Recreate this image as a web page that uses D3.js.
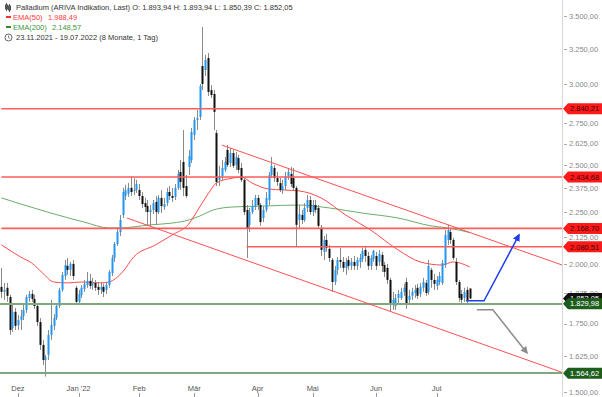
<!DOCTYPE html>
<html>
<head>
<meta charset="utf-8">
<script src="https://cdn.jsdelivr.net/npm/d3@7"></script>
<style>
  body { margin: 0; background: #fff; }
  svg { display: block; font-family: "Liberation Sans", Arial, sans-serif; }
</style>
</head>
<body>
<div id="chart"></div>
<script>
// trading days 23.11.2021 - 19.07.2022 (weekdays)
var firstDay = new Date(2021, 10, 23), lastDay = new Date(2022, 6, 19);

var openP = [
  1901,1880,1897,1858,1733,1797,1744,1764,1780,1805,
  1854,1871,1850,1821,1756,1668,1612,1631,1706,1741,
  1772,1821,1888,1948,1993,1975,2002,1897,1838,1867,
  1892,1909,1927,1909,1918,1901,1888,1901,1888,1909,
  1961,2029,2094,2151,2235,2333,2344,2376,2360,2365,
  2365,2333,2296,2281,2250,2261,2302,2250,2323,2276,
  2296,2354,2333,2328,2376,2463,2519,2386,2491,2530,
  2677,2769,2788,3127,3099,3184,2962,2936,2689,2419,
  2440,2474,2588,2513,2570,2502,2541,2485,2419,2261,
  2186,2250,2276,2323,2286,2220,2261,2312,2446,2485,
  2429,2402,2365,2386,2440,2452,2429,2376,2210,2235,
  2210,2271,2312,2250,2286,2271,2171,2057,2113,2071,
  2020,1922,1975,2020,2011,1984,2020,1993,2011,1993,
  2011,2024,2066,2038,1993,2024,2038,2011,2043,1997,
  1984,1931,1825,1821,1854,1854,1880,1922,1846,1863,
  1875,1897,1871,1897,1918,1880,1975,1931,1905,1922,
  1918,1997,2113,2151,2113,2011,1922,1871,1854,1888,
  1893.94
];
var highP = [
  1984,1918,1918,1867,1825,1813,1784,1805,1825,1867,
  1884,1888,1867,1829,1772,1687,1631,1725,1846,1788,
  1833,1897,1966,2020,2029,2011,2020,1905,1888,1909,
  1931,1966,1957,1940,1931,1922,1922,1914,1922,1975,
  2043,2104,2171,2235,2376,2392,2402,2440,2429,2419,
  2397,2354,2323,2312,2286,2312,2333,2338,2365,2323,
  2376,2386,2376,2397,2474,2530,2707,2446,2588,2720,
  2788,2832,3003,3414,3206,3220,2996,2962,2707,2497,
  2530,2547,2617,2600,2588,2576,2559,2513,2429,2286,
  2271,2312,2338,2338,2296,2281,2354,2463,2547,2502,
  2463,2429,2419,2463,2485,2491,2485,2386,2286,2261,
  2296,2338,2333,2312,2312,2286,2186,2132,2142,2090,
  2029,1993,2033,2076,2033,2029,2038,2029,2038,2033,
  2048,2076,2085,2057,2043,2066,2057,2066,2057,2011,
  2002,1940,1880,1871,1888,1897,1914,1940,1888,1897,
  1909,1914,1918,1940,1931,2020,1984,1957,1948,1966,
  2020,2161,2186,2171,2123,2029,1931,1888,1897,1901,
  1893.94
];
var lowP = [
  1854,1846,1838,1706,1717,1725,1725,1725,1764,1792,
  1838,1838,1809,1741,1649,1594,1553,1612,1687,1725,
  1764,1813,1880,1931,1953,1948,1931,1825,1829,1854,
  1880,1897,1892,1888,1884,1867,1871,1858,1871,1897,
  1948,2011,2085,2132,2220,2312,2328,2333,2338,2349,
  2312,2271,2250,2181,2176,2240,2186,2240,2245,2261,
  2281,2312,2302,2312,2365,2365,2333,2323,2446,2513,
  2647,2707,2769,2962,3057,2923,2910,2707,2386,2386,
  2419,2463,2491,2491,2485,2474,2457,2408,2235,2029,
  2151,2240,2261,2261,2181,2200,2250,2286,2429,2408,
  2386,2354,2344,2365,2419,2381,2365,2080,2171,2190,
  2200,2250,2235,2230,2245,2171,2038,2020,2057,2011,
  1880,1909,1953,1984,1966,1953,1975,1975,1975,1975,
  1984,2011,2011,1975,1975,2011,1975,1993,1966,1944,
  1914,1797,1805,1805,1833,1846,1863,1809,1829,1846,
  1854,1850,1858,1880,1863,1867,1897,1888,1888,1909,
  1909,1984,2090,2094,2020,1909,1838,1829,1838,1833,
  1850.39
];
var closeP = [
  1880,1888,1863,1725,1797,1741,1764,1780,1805,1858,
  1871,1850,1821,1756,1668,1612,1623,1706,1744,1772,
  1821,1888,1953,1997,1975,2002,1948,1838,1871,1897,
  1914,1927,1905,1918,1897,1888,1901,1880,1909,1966,
  2029,2094,2151,2210,2354,2365,2376,2354,2365,2397,
  2333,2291,2276,2250,2261,2296,2250,2323,2281,2291,
  2354,2333,2323,2376,2452,2408,2376,2333,2553,2695,
  2769,2782,2989,3003,3170,2949,2929,2820,2408,2440,
  2485,2519,2502,2570,2497,2547,2474,2419,2250,2171,
  2250,2281,2323,2286,2200,2261,2323,2446,2497,2429,
  2408,2365,2386,2440,2463,2397,2376,2186,2240,2210,
  2271,2312,2250,2286,2261,2181,2066,2113,2076,2029,
  1922,1975,2020,2011,1984,2011,1993,2011,1993,2020,
  2029,2062,2038,1993,2029,2062,1993,2048,1993,1966,
  1931,1825,1846,1854,1871,1880,1897,1825,1863,1880,
  1888,1863,1901,1922,1875,1993,1931,1914,1931,1948,
  2006,2137,2161,2113,2029,1922,1854,1846,1880,1846,
  1852.05
];

// EMA lines (candle index, value)
var ema50Idx = [0, 7, 11, 15, 19, 24, 29, 36, 39, 44, 48, 56, 62, 68, 72, 76, 78, 84, 87, 91, 97, 102, 108, 116, 125, 134, 144, 152, 160, 164, 170];
var ema50Val = [2090, 2033, 2006, 1961, 1922, 1918, 1922, 1918, 1922, 1966, 2033, 2090, 2137, 2190, 2276, 2365, 2402, 2429, 2435, 2402, 2370, 2365, 2360, 2323, 2235, 2161, 2066, 2011, 1997, 2011, 1988.49];
var ema200Idx = [0, 18, 30, 39, 43, 54, 62, 68, 72, 77, 84, 96, 108, 119, 131, 144, 156, 162, 170];
var ema200Val = [2323, 2245, 2200, 2171, 2171, 2186, 2195, 2210, 2230, 2261, 2276, 2281, 2286, 2271, 2245, 2220, 2181, 2171, 2148.57];

// horizontal levels
var redLevels = [2840.21, 2434.68, 2168.70, 2080.51];
var redLevelStart = [0, 0, 0, 89];
var greenLevels = [1829.98, 1564.62];
var lastPrice = 1852.05;

// trend channel (candle index, price)
var channelUpper = [[80, 2617], [203.5, 1997]];
var channelLower = [[45.6, 2220], [203.5, 1568]];

// scenario arrows
var arrowUp = [[168.6, 1842], [175.2, 1842], [187.9, 2137]];
var arrowDown = [[172.6, 1805], [178.4, 1805], [190.8, 1638]];

var yTicks = [1500, 1625, 1750, 1875, 2000, 2125, 2250, 2375, 2500, 2625, 2750, 3000, 3250, 3500];
var monthStarts = [new Date(2021, 11, 1), new Date(2022, 0, 1), new Date(2022, 1, 1), new Date(2022, 2, 1),
                   new Date(2022, 3, 1), new Date(2022, 4, 1), new Date(2022, 5, 1), new Date(2022, 6, 1)];
var monthLabels = ["Dez", "Jan '22", "Feb", "Mär", "Apr", "Mai", "Jun", "Jul"];

var width = 602, height = 397, plotRight = 562;

var de = d3.formatLocale({decimal: ",", thousands: ".", grouping: [3], currency: ["", ""]});
var fmt = de.format(",.2f");

var days = d3.timeDay.range(firstDay, d3.timeDay.offset(lastDay, 1))
  .filter(function(d) { return d.getDay() !== 0 && d.getDay() !== 6; });

// month tick sits on the last trading day on or before the 1st
function dayIndex(date) {
  var k = d3.bisector(function(d) { return d; }).left(days, date);
  if (+days[k] === +date || k === 0) return k;
  return k - 1;
}

var x = d3.scaleLinear().domain([-0.5, 203.5]).range([0, plotRight]);
var y = d3.scaleLog().domain([1500, 3500]).range([392, 16]);

var svg = d3.select('#chart').append('svg')
  .attr('width', width)
  .attr('height', height);

svg.append('defs').selectAll('marker')
  .data([['headBlue', '#1f3df0'], ['headGray', '#8c8c8c']])
  .join('marker')
  .attr('id', function(d) { return d[0]; })
  .attr('viewBox', '0 0 10 10')
  .attr('refX', 8).attr('refY', 5)
  .attr('markerWidth', 5).attr('markerHeight', 5)
  .attr('orient', 'auto')
  .append('path')
  .attr('d', 'M0,0 L10,5 L0,10 z')
  .attr('fill', function(d) { return d[1]; });

// right axis line
svg.append('line')
  .attr('x1', plotRight + 0.5).attr('x2', plotRight + 0.5)
  .attr('y1', 0).attr('y2', height)
  .attr('stroke', '#d8d8d8');

// EMA lines
var emaLine = d3.line()
  .curve(d3.curveMonotoneX)
  .x(function(d) { return x(d[0]); })
  .y(function(d) { return y(d[1]); });

svg.append('path')
  .attr('d', emaLine(d3.zip(ema200Idx, ema200Val)))
  .attr('fill', 'none').attr('stroke', '#6aae6a').attr('stroke-width', 1);

svg.append('path')
  .attr('d', emaLine(d3.zip(ema50Idx, ema50Val)))
  .attr('fill', 'none').attr('stroke', '#ff4a4a').attr('stroke-width', 1);

// candles
var candles = d3.range(closeP.length).map(function(i) {
  return {i: i, o: openP[i], h: highP[i], l: lowP[i], c: closeP[i]};
});

svg.append('g').selectAll('line')
  .data(candles)
  .join('line')
  .attr('x1', function(d) { return Math.round(x(d.i)) + 0.5; })
  .attr('x2', function(d) { return Math.round(x(d.i)) + 0.5; })
  .attr('y1', function(d) { return y(d.h); })
  .attr('y2', function(d) { return y(d.l); })
  .attr('stroke', '#8a8a8a');

svg.append('g').selectAll('rect')
  .data(candles)
  .join('rect')
  .attr('x', function(d) { return Math.round(x(d.i)) - 0.5; })
  .attr('width', 2)
  .attr('y', function(d) { return y(Math.max(d.o, d.c)); })
  .attr('height', function(d) { return Math.max(1, Math.abs(y(d.o) - y(d.c))); })
  .attr('fill', function(d) { return d.c >= d.o ? '#2196f3' : '#111'; });

// horizontal levels
svg.append('g').selectAll('line')
  .data(redLevels)
  .join('line')
  .attr('x1', function(d, i) { return x(redLevelStart[i]); })
  .attr('x2', plotRight)
  .attr('y1', function(d) { return y(d); })
  .attr('y2', function(d) { return y(d); })
  .attr('stroke', '#ff5c5c').attr('stroke-width', 1.6);

svg.append('g').selectAll('line')
  .data(greenLevels)
  .join('line')
  .attr('x1', 0).attr('x2', plotRight)
  .attr('y1', function(d) { return Math.round(y(d)); })
  .attr('y2', function(d) { return Math.round(y(d)); })
  .attr('stroke', '#7fa87f').attr('stroke-width', 2);

// channel
var straight = d3.line()
  .x(function(d) { return x(d[0]); })
  .y(function(d) { return y(d[1]); });

svg.append('g').selectAll('path')
  .data([channelUpper, channelLower])
  .join('path')
  .attr('d', straight)
  .attr('fill', 'none').attr('stroke', '#ff5050').attr('stroke-width', 1);

// arrows
svg.append('path')
  .attr('d', straight(arrowUp))
  .attr('fill', 'none').attr('stroke', '#1f3df0').attr('stroke-width', 1.5)
  .attr('marker-end', 'url(#headBlue)');
svg.append('path')
  .attr('d', straight(arrowDown))
  .attr('fill', 'none').attr('stroke', '#8c8c8c').attr('stroke-width', 1.5)
  .attr('marker-end', 'url(#headGray)');

// right axis ticks and labels (labels under a level box are not shown)
var boxY = redLevels.concat(greenLevels).map(function(v) { return y(v); });
var labelTicks = yTicks.filter(function(t) {
  return boxY.every(function(b) { return Math.abs(b - y(t)) > 9; });
});
var yAxisG = svg.append('g').attr('font-size', 7.5).attr('fill', '#8a8a8a');
yAxisG.selectAll('line')
  .data(yTicks)
  .join('line')
  .attr('x1', plotRight + 2).attr('x2', plotRight + 5)
  .attr('y1', function(d) { return Math.round(y(d)) + 0.5; })
  .attr('y2', function(d) { return Math.round(y(d)) + 0.5; })
  .attr('stroke', '#aaa');
yAxisG.selectAll('text')
  .data(labelTicks)
  .join('text')
  .attr('x', plotRight + 7)
  .attr('y', function(d) { return y(d); })
  .attr('dy', '0.35em')
  .text(function(d) { return fmt(d); });

// price boxes
function priceBox(value, fill, textFill) {
  var cy = y(value);
  var g = svg.append('g');
  g.append('path')
    .attr('d', 'M' + (plotRight + 1) + ',' + cy +
               'L' + (plotRight + 6) + ',' + (cy - 5.5) +
               'L' + width + ',' + (cy - 5.5) +
               'L' + width + ',' + (cy + 5.5) +
               'L' + (plotRight + 6) + ',' + (cy + 5.5) + 'Z')
    .attr('fill', fill);
  g.append('text')
    .attr('x', plotRight + 8)
    .attr('y', cy)
    .attr('dy', '0.36em')
    .attr('font-size', 7.5)
    .attr('fill', textFill)
    .text(fmt(value));
}
priceBox(lastPrice, '#111', '#fff');
redLevels.forEach(function(v) { priceBox(v, '#ff1a1a', '#3a0000'); });
greenLevels.forEach(function(v) { priceBox(v, '#1d5e1d', '#fff'); });

// x axis
var xAxisG = svg.append('g').attr('font-size', 7.5).attr('fill', '#555');
var monthPos = monthStarts.map(dayIndex);
xAxisG.selectAll('text')
  .data(monthLabels)
  .join('text')
  .attr('x', function(d, i) { return x(monthPos[i]); })
  .attr('y', 391)
  .attr('text-anchor', 'middle')
  .text(function(d) { return d; });
xAxisG.selectAll('line')
  .data(monthPos)
  .join('line')
  .attr('x1', function(d) { return Math.round(x(d)) + 0.5; })
  .attr('x2', function(d) { return Math.round(x(d)) + 0.5; })
  .attr('y1', 393).attr('y2', height)
  .attr('stroke', '#999');

// legend
var last = candles[candles.length - 1];
var legend = svg.append('g').attr('font-size', 7.5);

var icon = legend.append('g').attr('stroke', '#555');
icon.append('line').attr('x1', 6.5).attr('x2', 6.5).attr('y1', 3).attr('y2', 11);
icon.append('line').attr('x1', 9.5).attr('x2', 9.5).attr('y1', 4).attr('y2', 12);
icon.append('rect').attr('x', 5.5).attr('y', 5).attr('width', 2).attr('height', 4).attr('fill', '#555');
icon.append('rect').attr('x', 8.5).attr('y', 6).attr('width', 2).attr('height', 4).attr('fill', '#555');

legend.append('text')
  .attr('x', 16).attr('y', 7).attr('dy', '0.35em').attr('fill', '#333')
  .text('Palladium (ARIVA Indikation, Last)  O: ' + fmt(last.o) + '  H: ' + fmt(last.h) +
        '  L: ' + fmt(last.l) + '  C: ' + fmt(last.c));

legend.append('line').attr('x1', 6).attr('x2', 11).attr('y1', 17).attr('y2', 17)
  .attr('stroke', '#ff3030').attr('stroke-width', 2);
legend.append('text').attr('x', 13).attr('y', 17).attr('dy', '0.35em').attr('fill', '#ff3a3a')
  .text('EMA(50)');
legend.append('text').attr('x', 48).attr('y', 17).attr('dy', '0.35em').attr('fill', '#ff3a3a')
  .text(fmt(ema50Val[ema50Val.length - 1]));

legend.append('line').attr('x1', 6).attr('x2', 11).attr('y1', 27).attr('y2', 27)
  .attr('stroke', '#2e8b2e').attr('stroke-width', 2);
legend.append('text').attr('x', 13).attr('y', 27).attr('dy', '0.35em').attr('fill', '#3a963a')
  .text('EMA(200)');
legend.append('text').attr('x', 52).attr('y', 27).attr('dy', '0.35em').attr('fill', '#3a963a')
  .text(fmt(ema200Val[ema200Val.length - 1]));

legend.append('circle').attr('cx', 8.5).attr('cy', 37.5).attr('r', 3.5)
  .attr('fill', 'none').attr('stroke', '#555').attr('stroke-width', 0.9);
legend.append('path').attr('d', 'M8.5,35.5 L8.5,37.5 L10,38.5')
  .attr('fill', 'none').attr('stroke', '#555').attr('stroke-width', 0.8);
legend.append('text').attr('x', 16).attr('y', 37.5).attr('dy', '0.35em').attr('fill', '#333')
  .text(d3.timeFormat('%d.%m.%Y')(firstDay) + ' - ' + d3.timeFormat('%d.%m.%Y')(lastDay) + '   (8 Monate, 1 Tag)');
</script>
</body>
</html>
